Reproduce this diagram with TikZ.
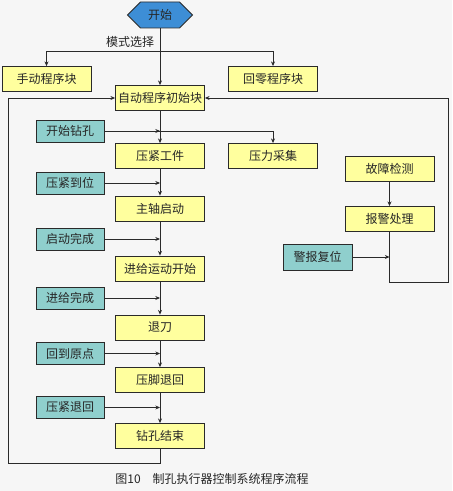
\documentclass[tikz,border=0pt]{standalone}
\usepackage{fontspec}
\setmainfont{Noto Sans CJK SC}
\usetikzlibrary{arrows.meta,shapes.symbols}
\definecolor{yellowfill}{HTML}{FFFF9E}
\definecolor{bluefill}{HTML}{8FCFCD}
\definecolor{hexblue}{HTML}{3D8ED6}
\definecolor{bgc}{HTML}{F6F6F6}
\definecolor{linec}{HTML}{2A2A2A}
\begin{document}
\begin{tikzpicture}[x=0.75pt,y=-0.75pt, font=\fontsize{9}{10}\selectfont, text=black!85,
 yb/.style={draw=linec, line width=0.6pt, fill=yellowfill, minimum width=66.75pt, minimum height=18.75pt, inner sep=0pt},
 bb/.style={draw=linec, line width=0.6pt, fill=bluefill, minimum width=51pt, minimum height=16.5pt, inner sep=0pt},
 hex/.style={signal, signal to=east and west, signal pointer angle=90, draw=linec, line width=0.6pt, fill=hexblue, minimum width=48.75pt, minimum height=19.5pt, inner sep=1pt},
 ln/.style={draw=linec, line width=0.6pt},
 arr/.style={ln, -{Stealth[length=3.5pt,width=3pt]}}]
\fill[bgc] (0,0) rectangle (452,491);
\useasboundingbox (0,0) rectangle (452,491);
% nodes
\node[hex] (start) at (160,15) {开始};
\node (mode) at (130,42) {模式选择};
\node[yb] (manual) at (46.5,79) {手动程序块};
\node[yb] (zero) at (273,79) {回零程序块};
\node[yb] (auto) at (160,98) {自动程序初始块};
\node[bb] (i1) at (70,131) {开始钻孔};
\node[yb] (s1) at (160,156) {压紧工件};
\node[yb] (press) at (273,156) {压力采集};
\node[bb] (i2) at (70,183) {压紧到位};
\node[yb] (s2) at (160,208.5) {主轴启动};
\node[bb] (i3) at (70,239) {启动完成};
\node[yb] (s3) at (160,268.5) {进给运动开始};
\node[bb] (i4) at (70,298) {进给完成};
\node[yb] (s4) at (160,327.5) {退刀};
\node[bb] (i5) at (70,353.5) {回到原点};
\node[yb] (s5) at (160,380) {压脚退回};
\node[bb] (i6) at (70,407.5) {压紧退回};
\node[yb] (s6) at (160,436) {钻孔结束};
\node[yb] (fault) at (389.5,168.5) {故障检测};
\node[yb] (alarm) at (389.5,219) {报警处理};
\node[bb, minimum width=51.75pt, minimum height=19.5pt] (reset) at (317.5,257) {警报复位};
\node (cap) at (212,479) {图10\quad 制孔执行器控制系统程序流程};
% connectors
\coordinate (split) at (160,51);
\draw[arr] (start.south) -- (auto.north);
\draw[arr] (split) -| (manual.north);
\draw[arr] (split) -| (zero.north);
\draw[arr] (auto.south) -- (s1.north);
\draw[arr] (s1.south) -- (s2.north);
\draw[arr] (s2.south) -- (s3.north);
\draw[arr] (s3.south) -- (s4.north);
\draw[arr] (s4.south) -- (s5.north);
\draw[arr] (s5.south) -- (s6.north);
\draw[arr] (i1.east) -| (press.north);
\draw[arr] (i1.east) -- (i1.east -| auto.south);
\draw[arr] (i2.east) -- (i2.east -| auto.south);
\draw[arr] (i3.east) -- (i3.east -| auto.south);
\draw[arr] (i4.east) -- (i4.east -| auto.south);
\draw[arr] (i5.east) -- (i5.east -| auto.south);
\draw[arr] (i6.east) -- (i6.east -| auto.south);
\coordinate (lb) at (8,463);
\draw[arr] (s6.south) |- (lb) |- (auto.west);
\coordinate (rb) at (448,282);
\draw[arr] (alarm.south) |- (rb) |- (auto.east);
\draw[arr] (fault.south) -- (alarm.north);
\draw[arr] (reset.east) -- (reset.east -| alarm.south);
\end{tikzpicture}
\end{document}
